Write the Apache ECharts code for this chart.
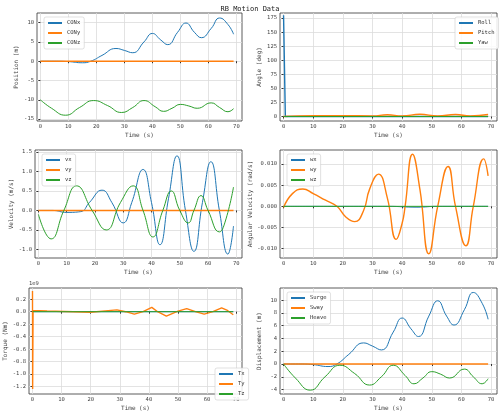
<!DOCTYPE html>
<html><head><meta charset="utf-8">
<script src="https://cdn.jsdelivr.net/npm/echarts@6/dist/echarts.min.js"></script>
<style>body{margin:0}#c{width:500px;height:416px}</style></head>
<body><div id="c"></div>
<script>
const xTicks=[0,10,20,30,40,50,60,70];
const conX=[[0,0],[5,0],[10,-0.1],[15,-0.4],[18,0],[22,1.5],[27,3.3],[30,2.8],[33,2.2],[37,5],[40,7.2],[43,5.5],[45.5,4.3],[49,7.5],[52,9.9],[55,7.5],[57.5,6.1],[61,8.5],[64,11.2],[67,9.5],[69,7]];
const conY=[[0,0],[69,0]];
const conZ=[[0,-10],[4,-12.2],[9,-14],[14,-12],[19,-10.2],[24,-11.5],[29,-13.3],[33,-12],[37,-10.2],[41,-11.8],[44,-13],[47,-12.2],[50,-11.2],[53,-11.6],[56,-12.2],[61,-10.8],[64,-12],[67,-13.1],[69,-12.3]];
const roll=[[0,180],[0.5,180],[0.6,0],[69,0]];
const pitch=[[0,0],[10,1.5],[20,1.5],[30,1],[35,3],[40,1],[46,4],[52,1],[58,3.5],[63,1],[69,3.5]];
const yaw=[[0,0],[69,0]];
const vx=[[0,0],[5,0],[10,-0.05],[15,-0.03],[18,0.2],[22.5,0.52],[26,0.2],[30,-0.32],[33,0.2],[37,1.05],[40,0.2],[43,-0.88],[46,0.3],[49,1.4],[52,0],[55,-1.05],[58,0.2],[61,1.25],[64,0],[67,-1.12],[69,-0.4]];
const vy=[[0,0],[69,0]];
const vz=[[0,-0.1],[4.5,-0.73],[9,0],[13.5,0.63],[19,0],[24,-0.5],[29,0.2],[33.5,0.63],[37,0],[40.5,-0.68],[44,0],[47,0.5],[50,0],[53,-0.32],[55,0],[57.5,0.38],[60,0],[64,-0.55],[66,-0.3],[69,0.6]];
const wx=[[0,0],[35,0],[45,-0.0002],[52,0],[69,0]];
const wy=[[0,-0.0003],[3,0.003],[6.5,0.0041],[10,0.003],[14,0.0015],[18,0],[21,-0.0025],[24,-0.0036],[27,-0.001],[29,0.004],[32,0.0076],[35,0.002],[38,-0.0078],[40,-0.004],[41,0],[43.5,0.0123],[46,0.004],[49,-0.0112],[52,0],[55.5,0.0094],[58,0],[61.5,-0.0093],[64,0],[67.5,0.0112],[69,0.0072]];
const wz=[[0,0],[69,0]];
const tx=[[0,0],[69,0]];
const ty=[[0,0.33],[0.05,-1.24],[0.2,0.02],[5,0.01],[20,-0.01],[29,0.03],[32,0],[35,-0.04],[38,0],[41,0.07],[43,0],[46,-0.07],[49,-0.01],[50,0.01],[53,0.05],[56,0],[59,-0.04],[62,0],[65,0.06],[67,0.02],[69,-0.05]];
const tz=[[0,0],[69,0]];
const surge=conX;
const sway=[[0,0],[69,0]];
const heave=[[0,0],[4,-2.2],[9,-4.1],[14,-2],[19,-0.2],[24,-1.5],[29,-3.3],[33,-2],[37,-0.2],[41,-1.8],[44,-3.1],[47,-2.2],[50,-1.2],[53,-1.6],[56,-2.2],[61,-0.8],[64,-2],[67,-3.1],[69,-2.3]];
const panels=[
 {grid:{left:37,top:13,width:205,height:108},yName:'Position (m)',min:-15.5,max:12.5,ticks:[-15,-10,-5,0,5,10],names:['CONx','CONy','CONz'],data:[conX,conY,conZ],leg:{left:44,top:17}},
 {grid:{left:280,top:13,width:217,height:108},yName:'Angle (deg)',min:-8,max:184,ticks:[0,25,50,75,100,125,150,175],names:['Roll','Pitch','Yaw'],data:[roll,pitch,yaw],leg:{left:455,top:17}},
 {grid:{left:35,top:150,width:207,height:108},yName:'Velocity (m/s)',min:-1.22,max:1.55,ticks:[-1,-0.5,0,0.5,1,1.5],names:['vx','vy','vz'],data:[vx,vy,vz],leg:{left:42,top:154},dec:1},
 {grid:{left:280,top:150,width:217,height:108},yName:'Angular Velocity (rad/s)',min:-0.0122,max:0.0133,ticks:[-0.01,-0.005,0,0.005,0.01],names:['wx','wy','wz'],data:[wx,wy,wz],leg:{left:287,top:154},dec:3},
 {grid:{left:29,top:288,width:213,height:106},yName:'Torque (Nm)',min:-1.32,max:0.38,ticks:[-1.2,-1,-0.8,-0.6,-0.4,-0.2,0,0.2],names:['Tx','Ty','Tz'],data:[tx,ty,tz],leg:{left:215,top:368},dec:1,e9:true},
 {grid:{left:280,top:288,width:217,height:106},yName:'Displacement (m)',min:-4.7,max:11.9,ticks:[-4,-2,0,2,4,6,8,10],names:['Surge','Sway','Heave'],data:[surge,sway,heave],leg:{left:287,top:292}}
];
const colors=['#1f77b4','#ff7f0e','#2ca02c'];
const F='DejaVu Sans Mono';
const opt={animation:false,backgroundColor:'#fff',color:colors,textStyle:{fontFamily:F},
 title:{text:'RB Motion Data',left:'center',top:1,textStyle:{fontFamily:F,fontSize:7,fontWeight:'normal',color:'#222'}},
 grid:[],xAxis:[],yAxis:[],series:[],legend:[],graphic:[]};
panels.forEach((p,i)=>{
 opt.grid.push(Object.assign({show:true,borderColor:'#333',borderWidth:0.8,backgroundColor:'transparent'},p.grid));
 opt.xAxis.push({type:'value',gridIndex:i,min:-1.2,max:72,name:'Time (s)',nameLocation:'middle',nameGap:11,nameTextStyle:{fontSize:6,color:'#444'},
  axisLine:{show:false},axisTick:{length:2,customValues:xTicks,lineStyle:{color:'#333'}},axisLabel:{fontSize:5.5,color:'#444',margin:3,customValues:xTicks},
  splitLine:{show:true,lineStyle:{color:'#dcdcdc',width:0.8}}});
 opt.yAxis.push({type:'value',gridIndex:i,min:p.min,max:p.max,name:p.yName,nameLocation:'middle',nameGap:p.dec===3?26:(p.dec===1?16:18),nameTextStyle:{fontSize:6,color:'#444'},
  axisLine:{show:false},axisTick:{show:true,length:2,customValues:p.ticks,lineStyle:{color:'#333'}},
  axisLabel:{fontSize:5.5,color:'#444',margin:3,customValues:p.ticks,formatter:v=>p.dec?v.toFixed(p.dec):String(Math.round(v))},
  splitLine:{show:true,lineStyle:{color:'#dcdcdc',width:0.8}}});
 p.names.forEach((n,k)=>{
  opt.series.push({type:'line',name:n,xAxisIndex:i,yAxisIndex:i,data:p.data[k],smooth:p.data[k].length>4&&i!==1&&i!==4?0.5:(i===1&&k===1?0.5:false),showSymbol:false,lineStyle:{width:(k===1||(i===1&&k===0))?1.4:1,color:colors[k]},z:k===2?3:2});
 });
 opt.legend.push({data:p.names.map(n=>({name:n})),orient:'vertical',left:p.leg.left,top:p.leg.top,itemWidth:14,itemHeight:2,itemGap:4,
  icon:'rect',textStyle:{fontSize:5.5,color:'#333',fontFamily:F},backgroundColor:'rgba(255,255,255,0.85)',borderColor:'#ccc',borderWidth:0.6,borderRadius:2,padding:[3,4]});
 if(p.e9) opt.graphic.push({type:'text',left:p.grid.left,top:p.grid.top-7,style:{text:'1e9',fontSize:5.5,fill:'#444',fontFamily:F}});
});
// assign legends to distinct series by name uniqueness: names are unique per panel
echarts.init(document.getElementById('c')).setOption(opt);
</script></body></html>
